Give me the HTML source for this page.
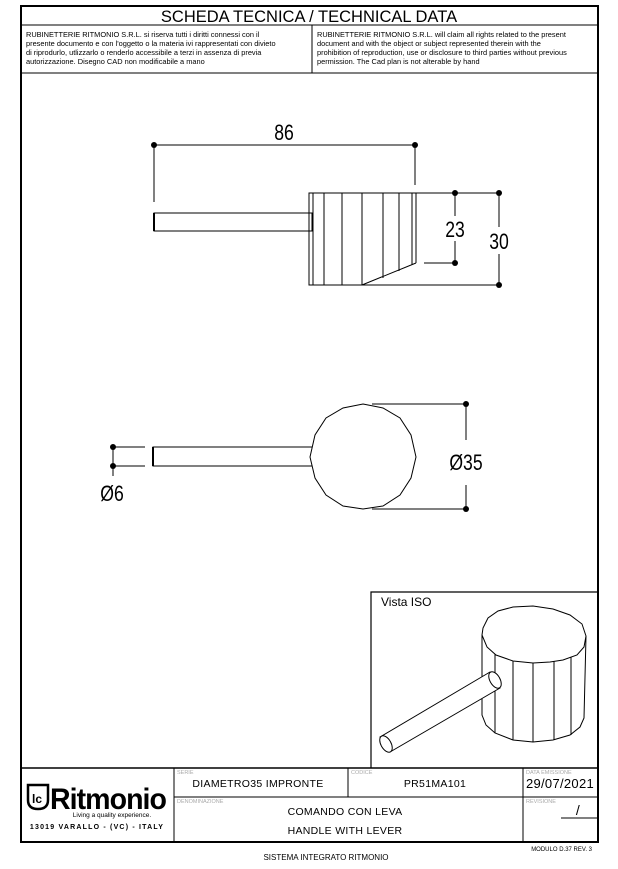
<!DOCTYPE html>
<html><head><meta charset="utf-8"><style>
html,body{margin:0;padding:0;background:#fff;}
svg{display:block;}
text{font-family:"Liberation Sans",sans-serif;fill:#000;}
</style></head><body>
<svg width="618" height="869" viewBox="0 0 618 869" xmlns="http://www.w3.org/2000/svg">
<g fill="none" stroke="#000">
<rect x="21" y="6" width="577" height="836" stroke-width="2"/>
<line x1="21" y1="25" x2="598" y2="25" stroke-width="1"/>
<line x1="21" y1="73" x2="598" y2="73" stroke-width="1"/>
<line x1="312" y1="25" x2="312" y2="73" stroke-width="1"/>
<line x1="21" y1="768" x2="598" y2="768" stroke-width="1.5"/>
<line x1="174" y1="797" x2="598" y2="797" stroke-width="1"/>
<line x1="174" y1="768" x2="174" y2="842" stroke-width="1"/>
<line x1="348" y1="768" x2="348" y2="797" stroke-width="1"/>
<line x1="523" y1="768" x2="523" y2="842" stroke-width="1"/>
<line x1="561" y1="818" x2="598" y2="818" stroke-width="1"/>
<polyline points="371,768 371,592 598,592" stroke-width="1.2"/>
</g>
<text x="309" y="22" font-size="16.5" text-anchor="middle">SCHEDA TECNICA / TECHNICAL DATA</text>
<g font-size="7.4">
<text x="26" y="37">RUBINETTERIE RITMONIO S.R.L. si riserva tutti i diritti connessi con il</text>
<text x="26" y="46">presente documento e con l'oggetto o la materia ivi rappresentati con divieto</text>
<text x="26" y="55">di riprodurlo, utlizzarlo o renderlo accessibile a terzi in assenza di previa</text>
<text x="26" y="64">autorizzazione. Disegno CAD non modificabile a mano</text>
<text x="317" y="37">RUBINETTERIE RITMONIO S.R.L. will claim all rights related to the present</text>
<text x="317" y="46">document and with the object or subject represented therein with the</text>
<text x="317" y="55">prohibition  of reproduction, use or disclosure to third parties without previous</text>
<text x="317" y="64">permission.  The Cad plan is not alterable by hand</text>
</g>

<g fill="none" stroke="#000" stroke-width="1">
<line x1="154" y1="145" x2="415" y2="145"/>
<line x1="154" y1="145" x2="154" y2="202"/>
<line x1="415" y1="145" x2="415" y2="185"/>
<rect x="154" y="213" width="158" height="18"/>
<line x1="154" y1="213" x2="154" y2="231" stroke-width="2"/>
<polyline points="416,193 309,193 309,285 499,285"/>
<line x1="416" y1="193" x2="499" y2="193"/>
<line x1="416" y1="193" x2="416" y2="263"/>
<line x1="362" y1="285" x2="416" y2="263"/>
<line x1="313" y1="193" x2="313" y2="285"/>
<line x1="324" y1="193" x2="324" y2="285"/>
<line x1="342" y1="193" x2="342" y2="285"/>
<line x1="362" y1="193" x2="362" y2="285"/>
<line x1="383" y1="193" x2="383" y2="278"/>
<line x1="399" y1="193" x2="399" y2="271"/>
<line x1="412" y1="193" x2="412" y2="265"/>
<line x1="455" y1="193" x2="455" y2="216"/>
<line x1="455" y1="241" x2="455" y2="263"/>
<line x1="424" y1="263" x2="455" y2="263"/>
<line x1="499" y1="193" x2="499" y2="227"/>
<line x1="499" y1="254" x2="499" y2="285"/>
</g>
<g fill="#000">
<circle cx="154" cy="145" r="3"/><circle cx="415" cy="145" r="3"/>
<circle cx="455" cy="193" r="3"/><circle cx="455" cy="263" r="3"/>
<circle cx="499" cy="193" r="3"/><circle cx="499" cy="285" r="3"/>
</g>
<g font-size="22" text-anchor="middle">
<text transform="translate(284,140) scale(0.8,1)">86</text>
<text transform="translate(455,237) scale(0.8,1)">23</text>
<text transform="translate(499,249) scale(0.8,1)">30</text>
</g>

<g fill="none" stroke="#000" stroke-width="1">
<rect x="153" y="447" width="160" height="19"/>
<line x1="153" y1="447" x2="153" y2="466" stroke-width="2"/>
<polygon fill="#fff" points="363,404 383,408 400,418 411,435 416,457 411,478 400,495 383,506 363,509 343,506 326,495 315,478 310,457 315,435 326,418 343,408"/>
<line x1="372" y1="404" x2="466" y2="404"/>
<line x1="372" y1="509" x2="466" y2="509"/>
<line x1="466" y1="404" x2="466" y2="440"/>
<line x1="466" y1="485" x2="466" y2="509"/>
<line x1="113" y1="447" x2="145" y2="447"/>
<line x1="113" y1="466" x2="145" y2="466"/>
<line x1="113" y1="447" x2="113" y2="476"/>
</g>
<g fill="#000">
<circle cx="466" cy="404" r="3"/><circle cx="466" cy="509" r="3"/>
<circle cx="113" cy="447" r="3"/><circle cx="113" cy="466" r="3"/>
</g>
<g font-size="22" text-anchor="middle">
<text transform="translate(466,470) scale(0.8,1)">Ø35</text>
<text transform="translate(112,501) scale(0.8,1)">Ø6</text>
</g>

<text x="381" y="606" font-size="12">Vista ISO</text>
<g fill="none" stroke="#000" stroke-width="1">
<path d="M482,635 L482,715 L486,725 L495,733 L513,740 L533,742 L553,740 L570,735 L580,727 L584,718 L586,636" fill="#fff"/>
<line x1="495" y1="654" x2="495" y2="733"/>
<line x1="513" y1="660" x2="513" y2="740"/>
<line x1="533" y1="663" x2="533" y2="742"/>
<line x1="554" y1="661" x2="554" y2="740"/>
<line x1="571" y1="656" x2="571" y2="735"/>
<polygon fill="#fff" points="482,635 483,628 488,618 498,611 513,607 533,606 553,609 570,615 582,624 586,636 584,647 577,655 563,660 550,662 533,663 513,661 496,655 487,647"/>
<polygon fill="#fff" points="380,737 490,672 500,688 390,752"/>
<ellipse cx="495" cy="680" rx="5" ry="9" transform="rotate(-30 495 680)" fill="#fff"/>
<ellipse cx="386" cy="744" rx="5" ry="9" transform="rotate(-30 386 744)" fill="#fff"/>
</g>

<g font-size="5.5">
<text x="177" y="774" style="fill:#aaa">SERIE</text>
<text x="351" y="774" style="fill:#aaa">CODICE</text>
<text x="526" y="774" style="fill:#aaa">DATA EMISSIONE</text>
<text x="177" y="803" style="fill:#aaa">DENOMINAZIONE</text>
<text x="526" y="803" style="fill:#aaa">REVISIONE</text>
</g>
<g font-size="10.5" letter-spacing="0.3">
<text x="258" y="787" text-anchor="middle">DIAMETRO35  IMPRONTE</text>
<text x="435" y="787" text-anchor="middle">PR51MA101</text>
<text x="560" y="788" text-anchor="middle" font-size="13">29/07/2021</text>
<text x="345" y="815" text-anchor="middle">COMANDO  CON  LEVA</text>
<text x="345" y="834" text-anchor="middle">HANDLE  WITH  LEVER</text>
<text x="578" y="815" font-size="14" text-anchor="middle">/</text>
</g>
<g fill="none" stroke="#000" stroke-width="2.5">
<path d="M28,785 L48,785 L48,800 Q48,809 38,809 Q28,809 28,800 Z"/>
</g>
<text x="32" y="803" font-size="12" font-weight="bold">lc</text>
<text x="50" y="809" font-size="30" font-weight="bold" letter-spacing="-1" textLength="116" lengthAdjust="spacingAndGlyphs">Ritmonio</text>
<text x="112" y="817" font-size="6.5" text-anchor="middle">Living a quality experience.</text>
<text x="97" y="829" font-size="7" font-weight="bold" text-anchor="middle" letter-spacing="1.2">13019 VARALLO - (VC) - ITALY</text>
<text x="326" y="860" font-size="8" text-anchor="middle">SISTEMA INTEGRATO RITMONIO</text>
<text x="592" y="851" font-size="6" text-anchor="end">MODULO D.37 REV. 3</text>
</svg>
</body></html>
